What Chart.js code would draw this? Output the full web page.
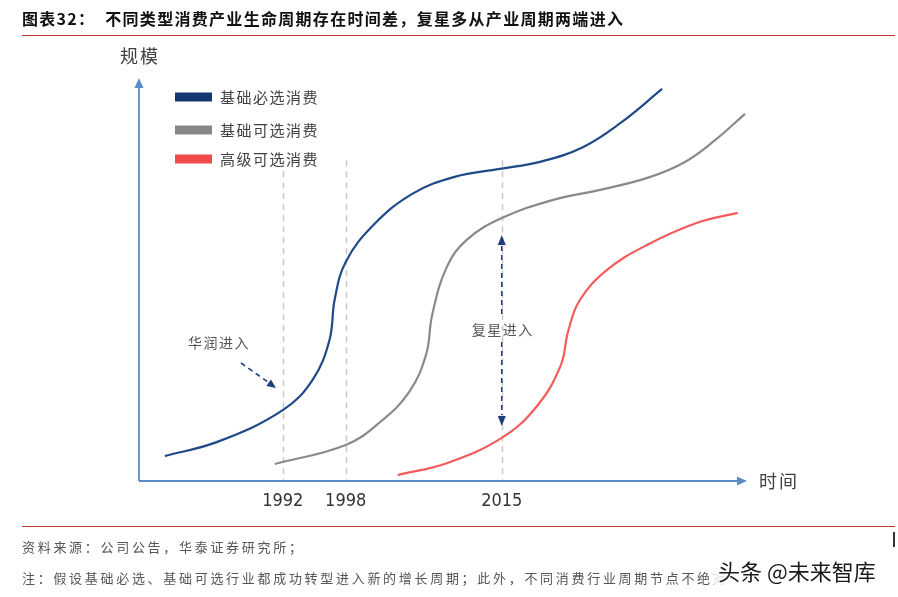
<!DOCTYPE html>
<html>
<head>
<meta charset="utf-8">
<script src="https://cdn.jsdelivr.net/npm/chart.js@4.4.0/dist/chart.umd.min.js"></script>
<style>
  html, body { margin: 0; padding: 0; background: #fff; }
  #page { position: relative; width: 898px; height: 597px; overflow: hidden; font-family: "Noto Sans CJK SC", sans-serif; }
  #chart { position: absolute; left: 0; top: 0; }
  .title { position: absolute; left: 22px; top: 6px; font-size: 16px; font-weight: bold; color: #111; white-space: nowrap; letter-spacing: 1.3px; }
  .rule { position: absolute; left: 22px; width: 873px; height: 1px; background: #c0392b; }
  .src { position: absolute; left: 22px; font-size: 13px; color: #555; white-space: nowrap; letter-spacing: 2.7px; }
  .wm { position: absolute; left: 714px; top: 554px; font-size: 22px; color: #1a1a1a; white-space: nowrap; background: rgba(255,255,255,0.85); padding: 0 4px; }
  .cursor { position: absolute; left: 893px; top: 532px; width: 2px; height: 15px; background: #333; }
</style>
</head>
<body>
<div id="page">
  <canvas id="chart" width="898" height="597"></canvas>
  <div class="title">图表32：&nbsp;&nbsp;不同类型消费产业生命周期存在时间差，复星多从产业周期两端进入</div>
  <div class="rule" style="top:35px"></div>
  <div class="rule" style="top:526px"></div>
  <div class="cursor"></div>
  <div class="src" style="top:537px">资料来源：公司公告，华泰证券研究所；</div>
  <div class="src" style="top:568px">注：假设基础必选、基础可选行业都成功转型进入新的增长周期；此外，不同消费行业周期节点不绝对</div>
  <div class="wm">头条 @未来智库</div>
</div>
<script>
// ---- data (conceptual time units 0-100, scale units 0-100) ----
const seriesNames = ['基础必选消费', '基础可选消费', '高级可选消费'];
const seriesColors = ['#1f4a87', '#8a8a8a', '#f25c5c'];
const legendColors = ['#12386e', '#878787', '#f24a4a'];

const basicStaplesX = [4.1, 13.0, 23.6, 28.5, 31.3, 32.2, 34.0, 38.5, 45.0, 52.0, 59.5, 66.1, 73.2, 79.5, 86.3];
const basicStaplesY = [6.3, 10.0, 17.9, 25.5, 35.5, 46.0, 55.3, 64.5, 72.5, 76.8, 78.8, 80.6, 84.3, 90.5, 99.0];

const basicOptionalX = [22.3, 34.0, 39.7, 44.5, 47.3, 48.3, 50.7, 54.0, 59.8, 68.3, 76.0, 84.0, 90.0, 95.0, 100];
const basicOptionalY = [4.3, 9.1, 14.9, 22.5, 32.0, 42.0, 54.0, 60.9, 66.4, 71.0, 73.5, 76.6, 80.5, 86.0, 92.7];

const premiumOptionalX = [42.6, 50.7, 59.8, 65.5, 69.5, 70.8, 72.7, 77.2, 83.8, 92.1, 98.8];
const premiumOptionalY = [1.5, 4.5, 10.9, 18.7, 29.0, 38.0, 45.7, 53.3, 59.6, 65.2, 67.7];

const tickLabels = ['1992', '1998', '2015'];
const tickPositions = [23.6, 34.0, 59.8];

const axisTitleX = '时间';
const axisTitleY = '规模';
const annotationCR = '华润进入';
const annotationFosun = '复星进入';

function toPoints(xs, ys) { return xs.map((x, i) => ({ x: x, y: ys[i] })); }

const seriesData = [
  toPoints(basicStaplesX, basicStaplesY),
  toPoints(basicOptionalX, basicOptionalY),
  toPoints(premiumOptionalX, premiumOptionalY)
];

const CJK = '"Noto Sans CJK SC", sans-serif';
const AXIS_COLOR = '#5b8bc9';
const NAVY = '#1f3f7a';

function arrowHead(ctx, tipX, tipY, dir, len, half, color) {
  ctx.save();
  ctx.translate(tipX, tipY);
  ctx.rotate(dir);
  ctx.beginPath();
  ctx.moveTo(0, 0);
  ctx.lineTo(-len, -half);
  ctx.lineTo(-len, half);
  ctx.closePath();
  ctx.fillStyle = color;
  ctx.fill();
  ctx.restore();
}

const decorations = {
  id: 'decorations',
  beforeDatasetsDraw(chart) {
    const ctx = chart.ctx;
    const xs = chart.scales.x, ys = chart.scales.y;
    const area = chart.chartArea;
    const y0 = ys.getPixelForValue(0);
    // dashed vertical guide lines
    ctx.save();
    ctx.strokeStyle = '#c9c9c9';
    ctx.lineWidth = 1.5;
    ctx.setLineDash([6, 5]);
    tickPositions.forEach(v => {
      const px = Math.round(xs.getPixelForValue(v)) + 0.5;
      ctx.beginPath();
      ctx.moveTo(px, ys.getPixelForValue(81));
      ctx.lineTo(px, y0);
      ctx.stroke();
    });
    ctx.restore();

    // axes
    const x0 = xs.getPixelForValue(0) - 1;
    ctx.save();
    ctx.strokeStyle = AXIS_COLOR;
    ctx.lineWidth = 1.8;
    ctx.beginPath();
    ctx.moveTo(x0, y0);
    ctx.lineTo(area.right - 6, y0);
    ctx.stroke();
    ctx.beginPath();
    ctx.moveTo(x0, y0);
    ctx.lineTo(x0, area.top);
    ctx.stroke();
    ctx.restore();
    arrowHead(ctx, area.right + 2, y0, 0, 10, 4.5, AXIS_COLOR);
    arrowHead(ctx, x0, area.top - 7, -Math.PI / 2, 10, 4.5, AXIS_COLOR);

    // tick labels
    ctx.save();
    ctx.fillStyle = '#333';
    ctx.font = '18px "Liberation Sans Narrow", "DejaVu Sans Condensed", sans-serif';
    ctx.textAlign = 'center';
    ctx.textBaseline = 'middle';
    tickLabels.forEach((t, i) => {
      ctx.fillText(t, xs.getPixelForValue(tickPositions[i]), y0 + 20);
    });
    // axis titles
    ctx.fillStyle = '#404040';
    ctx.font = '18px ' + CJK;
    ctx.letterSpacing = '2px';
    ctx.textAlign = 'left';
    ctx.fillText(axisTitleX, area.right + 14, y0);
    ctx.fillText(axisTitleY, x0 - 19, area.top - 29);
    ctx.restore();

    // legend
    ctx.save();
    ctx.font = '15px ' + CJK;
    ctx.letterSpacing = '1.5px';
    ctx.textBaseline = 'middle';
    ctx.textAlign = 'left';
    const legendY = [97, 130, 159];
    seriesNames.forEach((n, i) => {
      ctx.fillStyle = legendColors[i];
      ctx.fillRect(175, legendY[i] - 4.5, 37, 9);
      ctx.fillStyle = '#404040';
      ctx.fillText(n, 220, legendY[i]);
    });
    ctx.restore();
  },
  afterDatasetsDraw(chart) {
    const ctx = chart.ctx;
    const xs = chart.scales.x;
    ctx.save();
    ctx.font = '14px ' + CJK;
    ctx.letterSpacing = '1.5px';
    ctx.fillStyle = '#555';
    ctx.textAlign = 'center';
    ctx.textBaseline = 'middle';
    // 华润进入
    ctx.fillText(annotationCR, 219, 343);
    ctx.strokeStyle = NAVY;
    ctx.lineWidth = 1.6;
    ctx.setLineDash([5, 4]);
    ctx.beginPath();
    ctx.moveTo(241, 363);
    ctx.lineTo(268, 382);
    ctx.stroke();
    ctx.setLineDash([]);
    arrowHead(ctx, 276, 388, Math.atan2(19, 27), 9, 4, NAVY);

    // 复星进入 double arrow at 2015
    const px = xs.getPixelForValue(tickPositions[2]);
    ctx.setLineDash([5, 4]);
    ctx.beginPath();
    ctx.moveTo(px, 246);
    ctx.lineTo(px, 318);
    ctx.moveTo(px, 342);
    ctx.lineTo(px, 415);
    ctx.stroke();
    ctx.setLineDash([]);
    arrowHead(ctx, px, 235, -Math.PI / 2, 10, 4, NAVY);
    arrowHead(ctx, px, 426, Math.PI / 2, 10, 4, NAVY);
    ctx.fillStyle = '#555';
    ctx.fillText(annotationFosun, px + 1, 330);
    ctx.restore();
  }
};

new Chart(document.getElementById('chart'), {
  type: 'line',
  data: {
    datasets: seriesData.map((d, i) => ({
      label: seriesNames[i],
      data: d,
      borderColor: seriesColors[i],
      borderWidth: 2.2,
      pointRadius: 0,
      fill: false,
      tension: 0.4,
      clip: false
    }))
  },
  options: {
    responsive: false,
    animation: false,
    layout: { padding: { left: 140, right: 153, top: 85, bottom: 116 } },
    plugins: { legend: { display: false }, tooltip: { enabled: false }, title: { display: false } },
    scales: {
      x: { type: 'linear', min: 0, max: 100, display: false },
      y: { type: 'linear', min: 0, max: 100, display: false }
    }
  },
  plugins: [decorations]
});
</script>
</body>
</html>
